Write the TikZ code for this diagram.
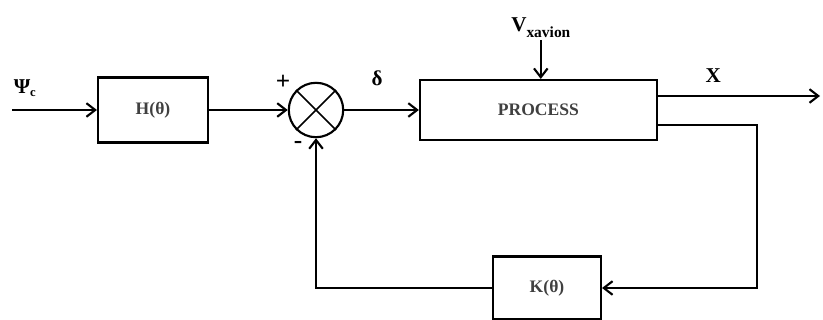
\documentclass[tikz,border=0pt]{standalone}
\usepackage{fontspec}
\setmainfont{Liberation Serif}
\usepackage{tikz}
\usetikzlibrary{positioning, arrows.meta}

\begin{document}
\begin{tikzpicture}[>={Straight Barb[length=2.2mm, width=3.4mm]}, line width=1.5pt, x=1cm, y=1cm, every node/.style={font=\fontsize{15}{18}\selectfont\bfseries}]
\tikzset{
  blk/.style={draw, fill=white, inner sep=0pt, font=\fontsize{12.5}{14}\selectfont\bfseries, text=black!75},
  sumc/.style={draw, circle, minimum size=1.36cm, inner sep=0pt},
  sig/.style={inner sep=1pt},
}
\useasboundingbox (0,0) rectangle (20.575,8);
% blocks
\coordinate (in) at (0.3,5.25);
\node[blk, minimum width=2.75cm, minimum height=1.625cm] (h) at (3.825,5.25) {H(θ)};
\node[sumc] (sum) at (7.9,5.25) {};
\draw[line width=1.2pt] (sum.north east) -- (sum.south west) (sum.north west) -- (sum.south east);
\node[blk, minimum width=5.925cm, minimum height=1.5cm] (proc) at (13.46,5.25) {PROCESS};
\node[blk, minimum width=2.7cm, minimum height=1.575cm] (k) at (13.675,0.8) {K(θ)};
% labels
\node[sig] (psi) at (0.62,5.8) {Ψ\raisebox{-0.35ex}{\fontsize{9}{10}\selectfont c}};
\node[sig, font=\fontsize{18}{20}\selectfont\bfseries] (plus) at (7.075,5.93) {+};
\node[sig, font=\fontsize{18}{20}\selectfont\bfseries] (minus) at (7.45,4.38) {-};
\node[sig] (delta) at (9.425,6.05) {δ};
\node[sig, anchor=south] (v) at (13.52,7.0) {V\raisebox{-0.6ex}{\fontsize{11}{12}\selectfont xavion}};
\node[sig] (xlab) at (17.83,6.12) {X};
\coordinate (xout) at (20.5,5.6);
\coordinate (fbr) at (18.925,4.875);
% connectors
\draw[->] (in) -- (h.west);
\draw[->] (h.east) -- (sum.west);
\draw[->] (sum.east) -- (proc.west);
\draw[->] (v.south) -- (v.south |- proc.north);
\draw[->] (proc.east |- xout) -- (xout);
\draw[->] (proc.east |- fbr) -- (fbr) |- (k.east);
\draw[->] (k.west) -| (sum.south);
\end{tikzpicture}
\end{document}
